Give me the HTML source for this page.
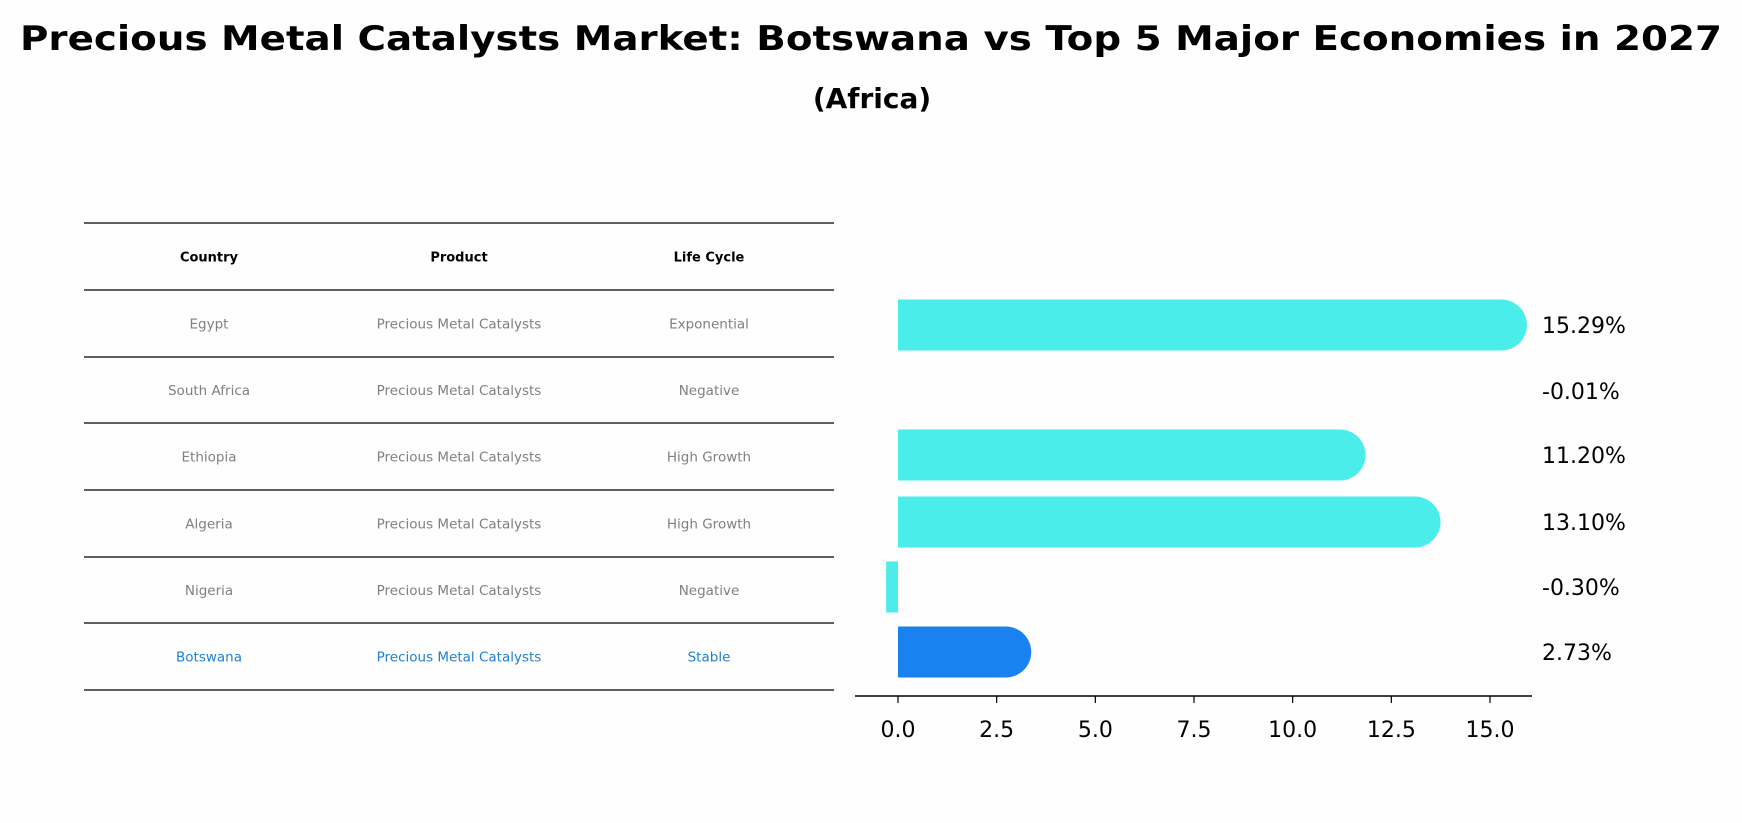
<!DOCTYPE html>
<html><head><meta charset="utf-8"><style>
html,body{margin:0;padding:0;background:#fefefe;}
svg{display:block;font-family:"DejaVu Sans","Liberation Sans",sans-serif;}
</style></head><body>
<svg id="chart" width="1742" height="823" viewBox="0 0 1742 823">
<text x="871" y="50" text-anchor="middle" font-size="34" font-weight="bold" textLength="1702" lengthAdjust="spacingAndGlyphs">Precious Metal Catalysts Market: Botswana vs Top 5 Major Economies in 2027</text>
<text x="872" y="108" text-anchor="middle" font-size="28" font-weight="bold">(Africa)</text>
<g id="table"></g>
<g id="bars"></g>
</svg>
<script>
const countries=["Egypt","South Africa","Ethiopia","Algeria","Nigeria","Botswana"];
const products=["Precious Metal Catalysts","Precious Metal Catalysts","Precious Metal Catalysts","Precious Metal Catalysts","Precious Metal Catalysts","Precious Metal Catalysts"];
const lifeCycles=["Exponential","Negative","High Growth","High Growth","Negative","Stable"];
const values=[15.29,-0.01,11.20,13.10,-0.30,2.73];
const valueLabels=["15.29%","-0.01%","11.20%","13.10%","-0.30%","2.73%"];
const ticks=[0,2.5,5,7.5,10,12.5,15];
const tickLabels=["0.0","2.5","5.0","7.5","10.0","12.5","15.0"];
const NS="http://www.w3.org/2000/svg";
function mk(tag,attrs,parent){const e=document.createElementNS(NS,tag);for(const k in attrs)e.setAttribute(k,attrs[k]);parent.appendChild(e);return e;}
// table
const tbl=document.getElementById('table');
const lineY=[223,290,357,423,490,557,623,690];
const colX=[209,459,709];
lineY.forEach(y=>{const l=mk('line',{x1:84,x2:834,y1:y,y2:y,stroke:'#000','stroke-width':1.2},tbl);

});
["Country","Product","Life Cycle"].forEach((h,i)=>{const t=mk('text',{x:colX[i],y:(lineY[0]+lineY[1])/2+5,'text-anchor':'middle','font-size':13,'font-weight':'bold'},tbl);t.textContent=h;

});
countries.forEach((c,r)=>{const y=(lineY[r+1]+lineY[r+2])/2+5;const col=c==="Botswana"?"#1f7fd6":"#808080";
[c,products[r],lifeCycles[r]].forEach((v,i)=>{const t=mk('text',{x:colX[i],y:y,'text-anchor':'middle','font-size':13.5,fill:col},tbl);t.textContent=v;

});});
// bars
const g=document.getElementById('bars');
const x0=898,pxPer=(1490-898)/15;
const xs=v=>x0+v*pxPer;
const rowY=[325,391,455,522,587,652];const bh=51;
values.forEach((v,i)=>{const col=countries[i]==="Botswana"?"#1a82f0":"#4bedea";
const a=Math.min(xs(0),xs(v)),w=Math.abs(xs(v)-xs(0));
if(w>0.5){const r=mk('rect',{x:a,y:rowY[i]-bh/2,width:w,height:bh,fill:col},g);


if(v>0){const c=mk('circle',{cx:xs(v),cy:rowY[i],r:bh/2,fill:col},g);

}}
const t=mk('text',{x:1542,y:rowY[i]+8,'font-size':22},g);t.textContent=valueLabels[i];

});
const ax=mk('line',{x1:855,x2:1532,y1:696,y2:696,stroke:'#000','stroke-width':1.5},g);


ticks.forEach((v,i)=>{const l=mk('line',{x1:xs(v),x2:xs(v),y1:696,y2:703,stroke:'#000','stroke-width':1.2},g);


const t=mk('text',{x:xs(v),y:737,'text-anchor':'middle','font-size':22},g);t.textContent=tickLabels[i];

});
</script>
</body></html>
